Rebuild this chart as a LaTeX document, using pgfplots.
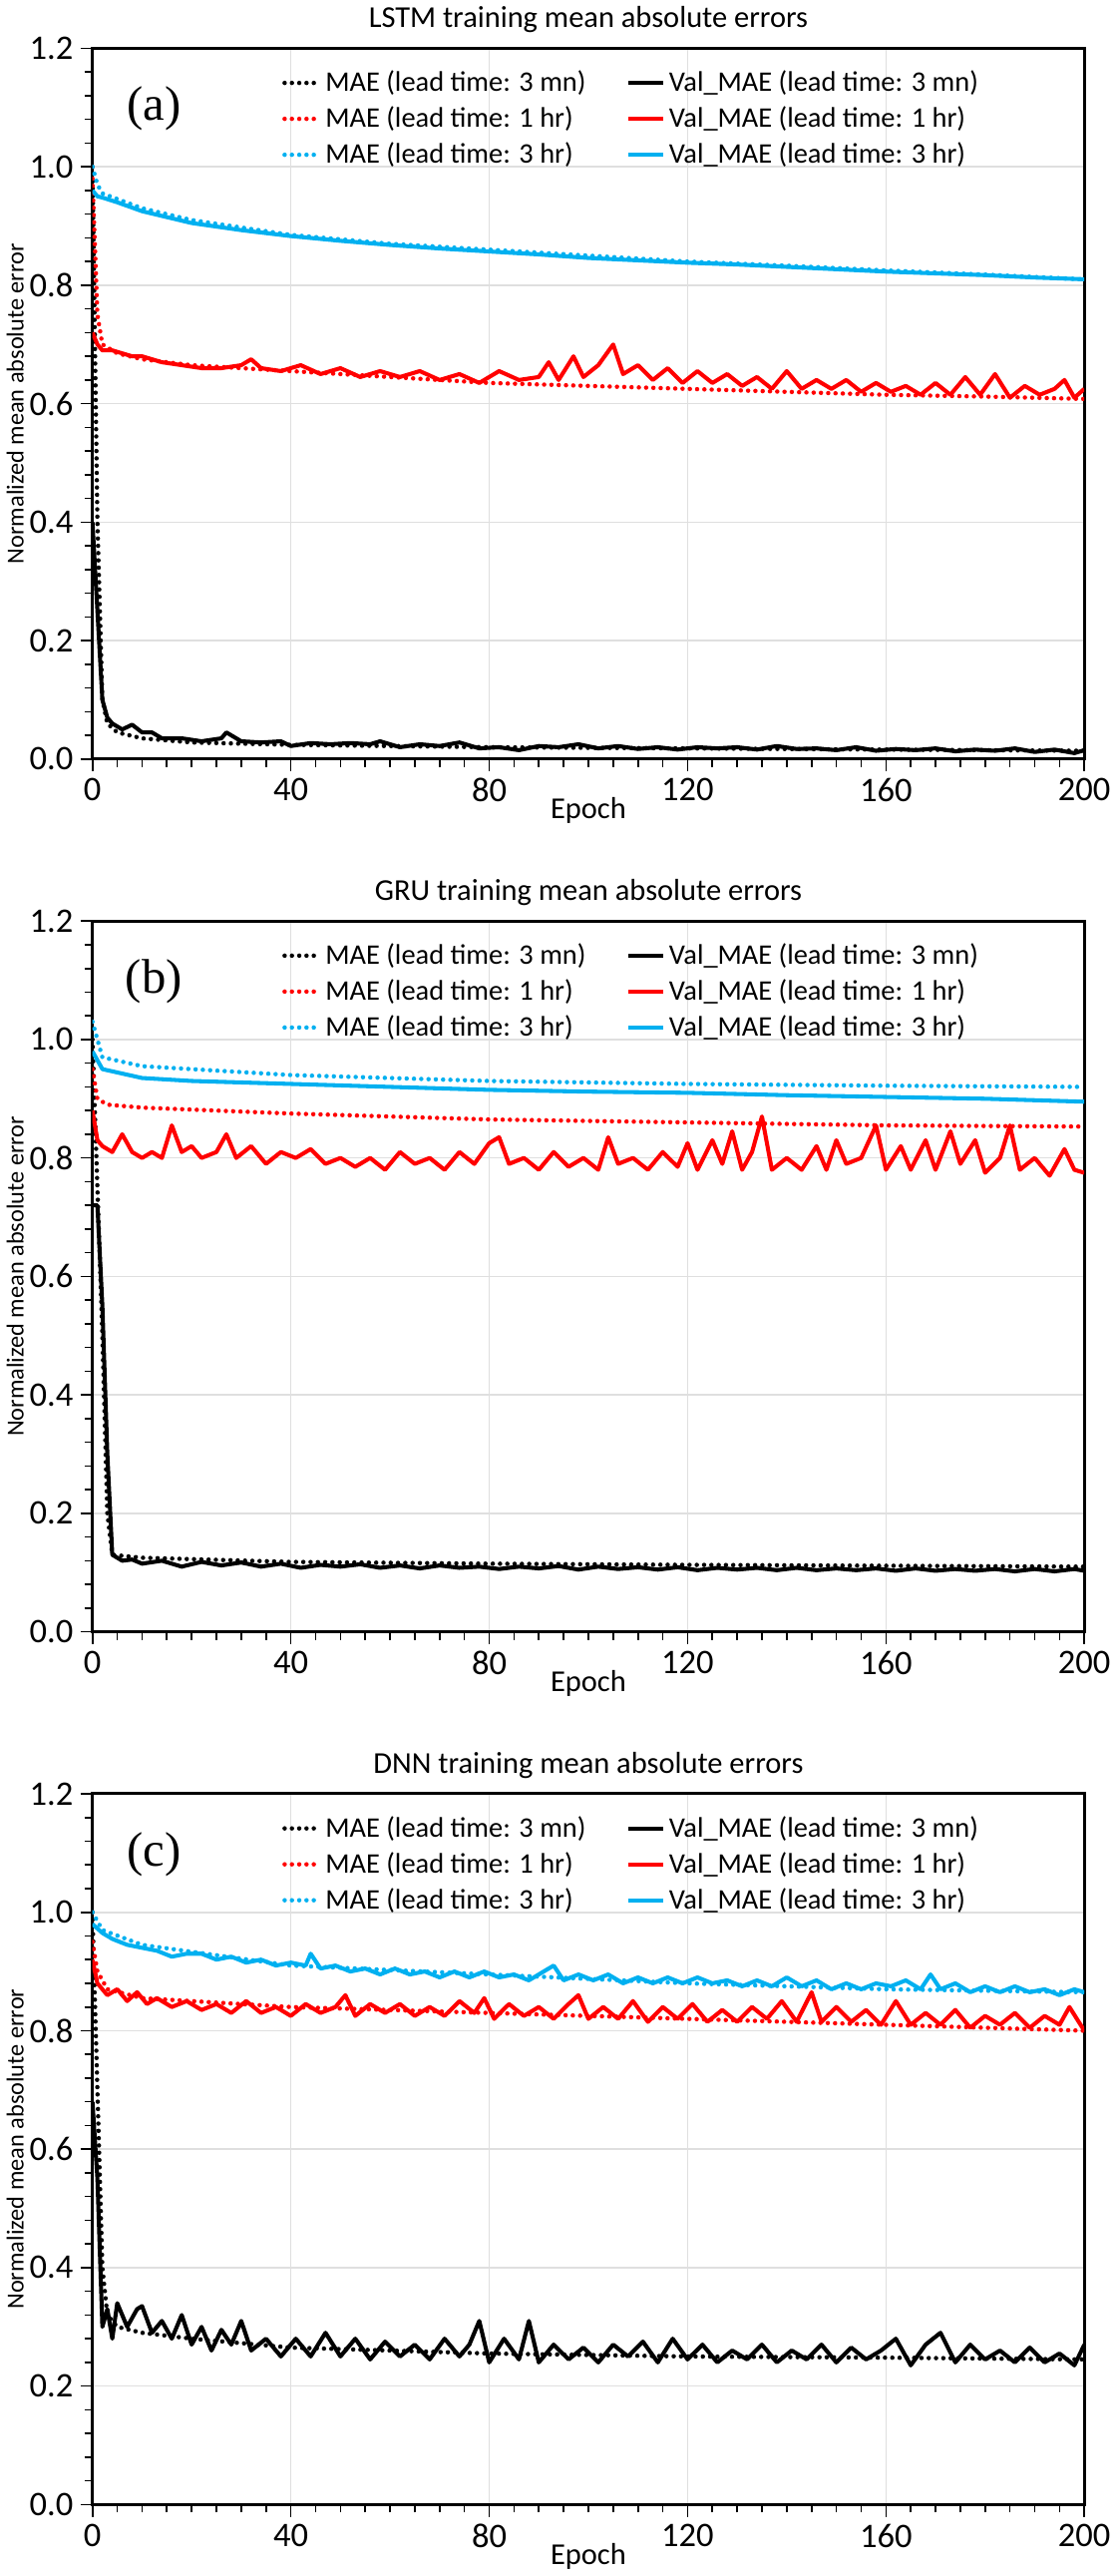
\documentclass[border=0pt]{standalone}
\usepackage{pgfplots}
\pgfplotsset{compat=1.18}
\usepackage{fontspec}
\setmainfont{Carlito}
\newfontfamily\serif{Liberation Serif}
\definecolor{cy}{HTML}{00B0F0}
\pgfplotsset{
  panel/.style={
    scale only axis, width=490pt, height=351pt,
    xmin=0, xmax=200, ymin=0, ymax=1.2,
    xtick={0,40,...,200}, ytick={0,0.2,...,1.2},
    minor x tick num=7, minor y tick num=4,
    yticklabel style={/pgf/number format/.cd,fixed,fixed zerofill,precision=1},
    /pgf/number format/assume math mode=true,
    tick label style={font=\fontsize{17}{20}\selectfont},
    xtick pos=bottom, ytick pos=left, tick align=outside,
    major tick length=6pt, minor tick length=4pt,
    every tick/.style={black, line width=0.8pt},
    axis line style={line width=1.5pt},
    grid=major, major grid style={gray!25, line width=0.8pt},
    xlabel={Epoch}, ylabel={Normalized mean absolute error},
    xlabel style={font=\fontsize{15}{18}\selectfont, yshift=9pt},
    ylabel style={font=\fontsize{12}{14}\selectfont, yshift=-4pt},
    title style={font=\fontsize{15}{18}\selectfont, yshift=-2pt},
    legend columns=2,
    legend style={at={(0.185,0.98)}, anchor=north west, draw=none, fill=none,
      font=\fontsize{14}{17}\selectfont, row sep=2pt,
      /tikz/every even column/.append style={column sep=18pt}},
    legend cell align=left,
  },
  dt/.style={line width=2.2pt, dash pattern=on 0pt off 3.6pt, line cap=round},
  sl/.style={line width=2pt, line join=round},
}
\begin{document}
\begin{tikzpicture}
% ---------------- (a)
\begin{axis}[panel, at={(0,0)}, title={LSTM training mean absolute errors}]
\addplot[dt, black] coordinates {(0,1.0)(1,0.4)(2,0.1)(3,0.06)(5,0.045)(10,0.035)(20,0.028)(40,0.024)(80,0.02)(120,0.018)(160,0.016)(200,0.014)};
\addlegendentry{MAE (lead time: 3 mn)}
\addplot[sl, black] coordinates {(0,0.40)(1,0.25)(2,0.10)(3,0.07)(4,0.06)(6,0.05)(8,0.058)(10,0.045)(12,0.045)(14,0.035)(18,0.035)(22,0.03)(26,0.035)(27,0.045)(30,0.03)(34,0.028)(38,0.03)(40,0.022)(44,0.027)(48,0.025)(52,0.027)(56,0.025)(58,0.03)(62,0.02)(66,0.025)(70,0.022)(74,0.028)(78,0.018)(82,0.02)(86,0.015)(90,0.022)(94,0.02)(98,0.025)(102,0.018)(106,0.022)(110,0.017)(114,0.02)(118,0.016)(122,0.02)(126,0.018)(130,0.02)(134,0.016)(138,0.022)(142,0.017)(146,0.018)(150,0.015)(154,0.02)(158,0.014)(162,0.017)(166,0.015)(170,0.018)(174,0.013)(178,0.016)(182,0.014)(186,0.018)(190,0.012)(194,0.016)(198,0.01)(200,0.015)};
\addlegendentry{Val\_MAE (lead time: 3 mn)}
\addplot[dt, red] coordinates {(0,0.98)(1,0.75)(2,0.70)(5,0.685)(10,0.675)(20,0.665)(40,0.655)(60,0.645)(80,0.635)(100,0.63)(120,0.625)(140,0.62)(160,0.615)(180,0.612)(200,0.608)};
\addlegendentry{MAE (lead time: 1 hr)}
\addplot[sl, red] coordinates {(0,0.72)(1,0.70)(2,0.69)(4,0.69)(6,0.685)(8,0.68)(10,0.68)(14,0.67)(18,0.665)(22,0.66)(26,0.66)(30,0.665)(32,0.675)(34,0.66)(38,0.655)(42,0.665)(46,0.65)(50,0.66)(54,0.645)(58,0.655)(62,0.645)(66,0.655)(70,0.64)(74,0.65)(78,0.635)(82,0.655)(86,0.64)(90,0.645)(92,0.67)(94,0.64)(97,0.68)(99,0.645)(102,0.665)(105,0.70)(107,0.65)(110,0.665)(113,0.64)(116,0.66)(119,0.635)(122,0.655)(125,0.635)(128,0.65)(131,0.63)(134,0.645)(137,0.625)(140,0.655)(143,0.625)(146,0.64)(149,0.625)(152,0.64)(155,0.62)(158,0.635)(161,0.62)(164,0.63)(167,0.615)(170,0.635)(173,0.615)(176,0.645)(179,0.615)(182,0.65)(185,0.61)(188,0.63)(191,0.615)(194,0.625)(196,0.64)(198,0.61)(200,0.625)};
\addlegendentry{Val\_MAE (lead time: 1 hr)}
\addplot[dt, cy] coordinates {(0,1.0)(1,0.97)(2,0.955)(10,0.93)(20,0.91)(40,0.885)(60,0.87)(80,0.86)(100,0.85)(120,0.84)(140,0.833)(160,0.825)(180,0.818)(200,0.81)};
\addlegendentry{MAE (lead time: 3 hr)}
\addplot[sl, cy] coordinates {(0,0.96)(1,0.95)(2,0.948)(5,0.94)(10,0.925)(20,0.905)(30,0.893)(40,0.883)(50,0.875)(60,0.868)(70,0.862)(80,0.857)(90,0.852)(100,0.846)(110,0.842)(120,0.838)(130,0.835)(140,0.831)(150,0.827)(160,0.823)(170,0.82)(180,0.817)(190,0.813)(200,0.81)};
\addlegendentry{Val\_MAE (lead time: 3 hr)}
\node[font=\serif\fontsize{24}{28}\selectfont] at (rel axis cs:0.062,0.915) {(a)};
\end{axis}
% ---------------- (b)
\begin{axis}[panel, at={(0,-431pt)}, title={GRU training mean absolute errors}]
\addplot[dt, black] coordinates {(0,1.0)(1,0.75)(2,0.5)(3,0.2)(4,0.13)(10,0.125)(40,0.118)(80,0.115)(120,0.113)(200,0.11)};
\addlegendentry{MAE (lead time: 3 mn)}
\addplot[sl, black] coordinates {(0,0.72)(1,0.72)(2,0.55)(3,0.3)(4,0.13)(6,0.12)(8,0.122)(10,0.115)(14,0.12)(18,0.11)(22,0.118)(26,0.112)(30,0.117)(34,0.11)(38,0.115)(42,0.108)(46,0.113)(50,0.11)(54,0.114)(58,0.108)(62,0.112)(66,0.107)(70,0.112)(74,0.108)(78,0.11)(82,0.106)(86,0.11)(90,0.107)(94,0.111)(98,0.105)(102,0.11)(106,0.106)(110,0.109)(114,0.105)(118,0.109)(122,0.104)(126,0.108)(130,0.105)(134,0.108)(138,0.104)(142,0.108)(146,0.104)(150,0.107)(154,0.104)(158,0.107)(162,0.103)(166,0.107)(170,0.103)(174,0.106)(178,0.103)(182,0.106)(186,0.102)(190,0.106)(194,0.102)(198,0.106)(200,0.103)};
\addlegendentry{Val\_MAE (lead time: 3 mn)}
\addplot[dt, red] coordinates {(0,0.95)(1,0.9)(3,0.89)(10,0.885)(40,0.875)(80,0.865)(120,0.86)(160,0.855)(200,0.853)};
\addlegendentry{MAE (lead time: 1 hr)}
\addplot[sl, red] coordinates {(0,0.88)(1,0.83)(2,0.82)(4,0.81)(6,0.84)(8,0.81)(10,0.80)(12,0.81)(14,0.80)(16,0.855)(18,0.81)(20,0.82)(22,0.80)(25,0.81)(27,0.84)(29,0.80)(32,0.82)(35,0.79)(38,0.81)(41,0.80)(44,0.815)(47,0.79)(50,0.80)(53,0.785)(56,0.80)(59,0.78)(62,0.81)(65,0.79)(68,0.80)(71,0.78)(74,0.81)(77,0.79)(80,0.825)(82,0.835)(84,0.79)(87,0.80)(90,0.78)(93,0.81)(96,0.785)(99,0.80)(102,0.78)(104,0.835)(106,0.79)(109,0.80)(112,0.78)(115,0.81)(118,0.785)(120,0.825)(122,0.78)(125,0.83)(127,0.79)(129,0.845)(131,0.78)(133,0.81)(135,0.87)(137,0.78)(140,0.80)(143,0.78)(146,0.82)(148,0.78)(150,0.83)(152,0.79)(155,0.80)(158,0.855)(160,0.78)(163,0.82)(165,0.78)(168,0.83)(170,0.78)(173,0.845)(175,0.79)(178,0.83)(180,0.775)(183,0.80)(185,0.855)(187,0.78)(190,0.80)(193,0.77)(196,0.815)(198,0.78)(200,0.775)};
\addlegendentry{Val\_MAE (lead time: 1 hr)}
\addplot[dt, cy] coordinates {(0,1.03)(2,0.97)(10,0.955)(40,0.94)(80,0.93)(120,0.925)(160,0.922)(200,0.92)};
\addlegendentry{MAE (lead time: 3 hr)}
\addplot[sl, cy] coordinates {(0,0.98)(2,0.95)(10,0.935)(20,0.93)(40,0.925)(60,0.92)(80,0.915)(100,0.912)(120,0.91)(140,0.906)(160,0.903)(180,0.9)(200,0.895)};
\addlegendentry{Val\_MAE (lead time: 3 hr)}
\node[font=\serif\fontsize{24}{28}\selectfont] at (rel axis cs:0.062,0.915) {(b)};
\end{axis}
% ---------------- (c)
\begin{axis}[panel, at={(0,-862pt)}, title={DNN training mean absolute errors}]
\addplot[dt, black] coordinates {(0,1.0)(1,0.7)(2,0.4)(3,0.32)(5,0.30)(10,0.29)(20,0.28)(40,0.265)(80,0.255)(120,0.25)(160,0.248)(200,0.245)};
\addlegendentry{MAE (lead time: 3 mn)}
\addplot[sl, black] coordinates {(0,0.68)(1,0.55)(2,0.30)(3,0.33)(4,0.28)(5,0.34)(7,0.30)(9,0.33)(10,0.335)(12,0.29)(14,0.31)(16,0.28)(18,0.32)(20,0.27)(22,0.30)(24,0.26)(26,0.295)(28,0.27)(30,0.31)(32,0.26)(35,0.28)(38,0.25)(41,0.28)(44,0.25)(47,0.29)(50,0.25)(53,0.28)(56,0.245)(59,0.275)(62,0.25)(65,0.27)(68,0.245)(71,0.28)(74,0.25)(76,0.27)(78,0.31)(80,0.24)(83,0.28)(86,0.245)(88,0.31)(90,0.24)(93,0.27)(96,0.245)(99,0.265)(102,0.24)(105,0.27)(108,0.25)(111,0.275)(114,0.24)(117,0.28)(120,0.245)(123,0.27)(126,0.24)(129,0.26)(132,0.245)(135,0.27)(138,0.24)(141,0.26)(144,0.245)(147,0.27)(150,0.24)(153,0.265)(156,0.245)(159,0.26)(162,0.28)(165,0.235)(168,0.27)(171,0.29)(174,0.24)(177,0.27)(180,0.245)(183,0.26)(186,0.24)(189,0.265)(192,0.24)(195,0.255)(198,0.235)(200,0.27)};
\addlegendentry{Val\_MAE (lead time: 3 mn)}
\addplot[dt, red] coordinates {(0,0.95)(1,0.9)(3,0.87)(10,0.855)(40,0.84)(80,0.83)(120,0.82)(160,0.81)(200,0.80)};
\addlegendentry{MAE (lead time: 1 hr)}
\addplot[sl, red] coordinates {(0,0.92)(1,0.88)(3,0.86)(5,0.87)(7,0.85)(9,0.865)(11,0.845)(13,0.855)(16,0.84)(19,0.85)(22,0.835)(25,0.845)(28,0.83)(31,0.85)(34,0.83)(37,0.84)(40,0.825)(43,0.845)(46,0.83)(49,0.84)(51,0.86)(53,0.825)(56,0.845)(59,0.83)(62,0.845)(65,0.825)(68,0.84)(71,0.825)(74,0.85)(77,0.83)(79,0.855)(81,0.82)(84,0.845)(87,0.825)(90,0.84)(93,0.82)(96,0.845)(98,0.86)(100,0.82)(103,0.84)(106,0.82)(109,0.85)(112,0.815)(115,0.84)(118,0.82)(121,0.845)(124,0.815)(127,0.835)(130,0.815)(133,0.84)(136,0.82)(139,0.85)(142,0.815)(145,0.865)(147,0.815)(150,0.84)(153,0.815)(156,0.835)(159,0.81)(162,0.85)(165,0.81)(168,0.83)(171,0.81)(174,0.835)(177,0.805)(180,0.825)(183,0.81)(186,0.83)(189,0.805)(192,0.825)(195,0.81)(197,0.84)(200,0.80)};
\addlegendentry{Val\_MAE (lead time: 1 hr)}
\addplot[dt, cy] coordinates {(0,1.0)(2,0.97)(10,0.945)(40,0.91)(80,0.895)(120,0.88)(160,0.87)(200,0.865)};
\addlegendentry{MAE (lead time: 3 hr)}
\addplot[sl, cy] coordinates {(0,0.98)(2,0.965)(4,0.955)(7,0.945)(10,0.94)(13,0.935)(16,0.925)(19,0.93)(22,0.93)(25,0.92)(28,0.925)(31,0.915)(34,0.92)(37,0.91)(40,0.915)(43,0.91)(44,0.93)(46,0.905)(49,0.91)(52,0.9)(55,0.905)(58,0.895)(61,0.905)(64,0.895)(67,0.9)(70,0.89)(73,0.9)(76,0.89)(79,0.9)(82,0.89)(85,0.895)(88,0.885)(91,0.9)(93,0.91)(95,0.885)(98,0.895)(101,0.885)(104,0.895)(107,0.88)(110,0.89)(113,0.88)(116,0.89)(119,0.88)(122,0.89)(125,0.88)(128,0.885)(131,0.875)(134,0.885)(137,0.875)(140,0.89)(143,0.875)(146,0.885)(149,0.87)(152,0.88)(155,0.87)(158,0.88)(161,0.875)(164,0.885)(167,0.87)(169,0.895)(171,0.87)(174,0.88)(177,0.865)(180,0.875)(183,0.865)(186,0.875)(189,0.865)(192,0.87)(195,0.86)(198,0.87)(200,0.865)};
\addlegendentry{Val\_MAE (lead time: 3 hr)}
\node[font=\serif\fontsize{24}{28}\selectfont] at (rel axis cs:0.062,0.915) {(c)};
\end{axis}
\end{tikzpicture}
\end{document}
